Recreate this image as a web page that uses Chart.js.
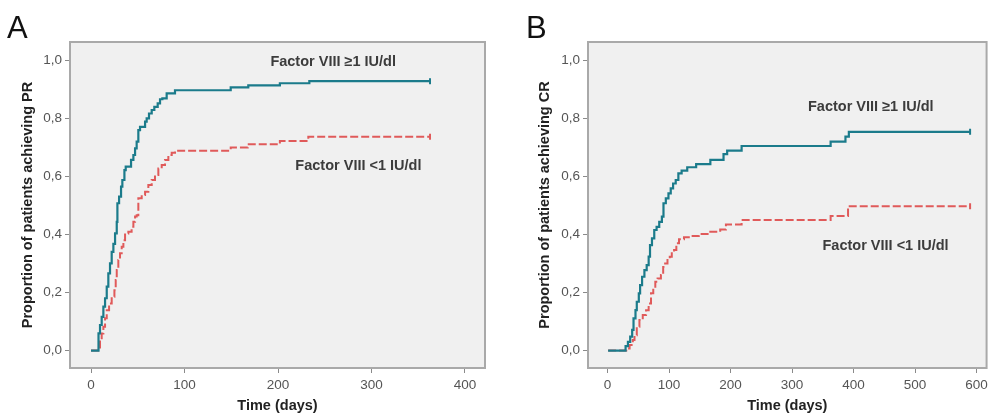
<!DOCTYPE html>
<html>
<head>
<meta charset="utf-8">
<script src="https://cdn.jsdelivr.net/npm/chart.js@4.4.1/dist/chart.umd.min.js"></script>
<style>
  body { margin: 0; background: #fff; width: 992px; height: 415px; overflow: hidden; position: relative; }
  .panel { position: absolute; top: 0; width: 496px; height: 415px; }
  .letter { position: absolute; font-family: 'Liberation Sans', Arial, sans-serif; font-size: 31px; color: #111; line-height: 1; }
</style>
</head>
<body>
<div class="panel" style="left:0"><canvas id="chartA" width="496" height="415"></canvas></div>
<div class="panel" style="left:496px"><canvas id="chartB" width="496" height="415"></canvas></div>
<div class="letter" style="left:7px;top:12px">A</div>
<div class="letter" style="left:526px;top:12px">B</div>
<script>
// Panel A: proportion achieving PR
const daysA_hi = [0, 8, 9.6, 11.4, 13.2, 15, 16.8, 18.5, 20.3, 22.1, 23.9, 25.7, 27.5, 28.2, 30, 32.1, 33.5, 35.7, 37.1, 42.8, 45.3, 47.1, 48.8, 50.6, 52.4, 57.8, 59.5, 62, 64.9, 67.7, 71.3, 73.8, 76.3, 80.9, 89.8, 149.4, 168.2, 202, 233.5, 362.6];
const propA_hi = [0, 0.059, 0.088, 0.116, 0.151, 0.180, 0.220, 0.266, 0.300, 0.340, 0.367, 0.403, 0.443, 0.507, 0.530, 0.564, 0.587, 0.621, 0.633, 0.656, 0.673, 0.696, 0.719, 0.759, 0.770, 0.788, 0.799, 0.816, 0.828, 0.839, 0.851, 0.865, 0.868, 0.885, 0.896, 0.906, 0.913, 0.920, 0.927, 0.927];
const daysA_lo = [0, 7.8, 9.6, 11.4, 13.2, 15, 16.8, 19.3, 22.1, 25, 26.4, 27.5, 29.2, 31, 32.8, 34.6, 36.4, 39.9, 43.4, 45.3, 47.1, 48.8, 50.6, 54.2, 57.8, 61.3, 64.9, 68.4, 72, 75.6, 79.1, 82.7, 86.3, 89.8, 149.4, 167.6, 202, 232.4, 362.6];
const propA_lo = [0, 0, 0.036, 0.059, 0.082, 0.111, 0.139, 0.162, 0.185, 0.208, 0.243, 0.277, 0.312, 0.335, 0.357, 0.380, 0.403, 0.409, 0.426, 0.443, 0.461, 0.466, 0.524, 0.535, 0.547, 0.570, 0.587, 0.604, 0.627, 0.639, 0.656, 0.673, 0.681, 0.688, 0.699, 0.710, 0.721, 0.736, 0.736];

// Panel B: proportion achieving CR
const daysB_hi = [1, 25.1, 29.4, 33.2, 36.9, 40.1, 42.3, 45.5, 47.6, 50.9, 53, 56.2, 60, 63.7, 66.9, 69.1, 72.3, 76, 79.8, 84.1, 88.4, 91, 94.8, 99.1, 102.8, 106.6, 110.9, 115.2, 120.5, 129.6, 144.1, 167.2, 188.6, 194.5, 218, 362.7, 386.8, 392.3, 589.4];
const propB_hi = [0, 0, 0.015, 0.030, 0.048, 0.071, 0.111, 0.139, 0.168, 0.197, 0.225, 0.254, 0.277, 0.294, 0.323, 0.363, 0.386, 0.415, 0.426, 0.443, 0.461, 0.507, 0.524, 0.541, 0.558, 0.575, 0.587, 0.610, 0.619, 0.631, 0.642, 0.656, 0.676, 0.688, 0.704, 0.719, 0.736, 0.753, 0.753];
const daysB_lo = [1, 25.1, 30.5, 35.9, 41.2, 43.9, 47.6, 51.9, 57.3, 62.7, 66.9, 70.7, 74.4, 77.7, 81.4, 86.8, 90.5, 93.7, 97.5, 101.2, 104.5, 108.2, 111.9, 116.2, 124.3, 135, 148.4, 164.5, 183.2, 192.5, 218, 362.7, 391, 589.4];
const propB_lo = [0, 0, 0.007, 0.019, 0.036, 0.053, 0.082, 0.105, 0.122, 0.139, 0.162, 0.197, 0.214, 0.237, 0.248, 0.260, 0.288, 0.300, 0.312, 0.323, 0.335, 0.346, 0.369, 0.383, 0.390, 0.394, 0.401, 0.409, 0.417, 0.434, 0.449, 0.463, 0.497, 0.497];

const xTicksA = [0, 100, 200, 300, 400];
const xTicksB = [0, 100, 200, 300, 400, 500, 600];
const yTicks = [0, 0.2, 0.4, 0.6, 0.8, 1.0];

const labelHi = 'Factor VIII \u22651 IU/dl';
const labelLo = 'Factor VIII <1 IU/dl';

const FONT = "'Liberation Sans', Arial, sans-serif";
const BLUE = '#1b7b8b';
const RED = '#e05a5a';

function pts(xs, ys) {
  return xs.map((x, i) => ({ x: x, y: ys[i] }));
}

// censor tick on the last point only
function lastOnly(n, r) {
  return (ctx) => ctx.dataIndex === n - 1 ? r : 0;
}

const frame = {
  id: 'frame',
  beforeDraw(chart) {
    const { ctx, chartArea: a } = chart;
    ctx.save();
    ctx.fillStyle = '#f0f0f0';
    ctx.fillRect(a.left, a.top, a.right - a.left, a.bottom - a.top);
    ctx.restore();
  },
  afterDatasetsDraw(chart) {
    const { ctx, chartArea: a } = chart;
    ctx.save();
    ctx.strokeStyle = '#a9a9a9';
    ctx.lineWidth = 2;
    ctx.strokeRect(a.left, a.top, a.right - a.left, a.bottom - a.top);
    ctx.restore();
  }
};

const notes = {
  id: 'notes',
  afterDraw(chart, args, opts) {
    const { ctx, scales } = chart;
    ctx.save();
    ctx.font = 'bold 14.5px ' + FONT;
    ctx.fillStyle = '#3c3c3c';
    ctx.textAlign = 'center';
    ctx.textBaseline = 'middle';
    (opts.items || []).forEach(n => {
      ctx.fillText(n.text, scales.x.getPixelForValue(n.x), scales.y.getPixelForValue(n.y));
    });
    ctx.restore();
  }
};

function makeChart(id, cfg) {
  const n1 = cfg.hi[0].length, n2 = cfg.lo[0].length;
  return new Chart(document.getElementById(id), {
    type: 'line',
    data: {
      datasets: [{
        label: labelHi,
        data: pts(cfg.hi[0], cfg.hi[1]),
        borderColor: BLUE,
        backgroundColor: BLUE,
        borderWidth: 2.2,
        stepped: true,
        pointStyle: 'line',
        rotation: 90,
        pointBorderColor: BLUE,
        pointBorderWidth: 2,
        pointRadius: lastOnly(n1, 3),
        pointHoverRadius: 0
      }, {
        label: labelLo,
        data: pts(cfg.lo[0], cfg.lo[1]),
        borderColor: RED,
        backgroundColor: RED,
        borderWidth: 2,
        borderDash: [8, 3],
        stepped: true,
        pointStyle: 'line',
        rotation: 90,
        pointBorderColor: RED,
        pointBorderWidth: 2,
        pointRadius: lastOnly(n2, 3),
        pointHoverRadius: 0
      }]
    },
    options: {
      responsive: false,
      animation: false,
      events: [],
      layout: { padding: { top: 42, right: cfg.padRight, left: 0, bottom: 0 } },
      plugins: {
        legend: { display: false },
        tooltip: { enabled: false },
        notes: { items: cfg.notes }
      },
      scales: {
        x: {
          type: 'linear',
          min: cfg.xMin,
          max: cfg.xMax,
          afterFit(s) { s.height = 47; },
          afterBuildTicks(s) { s.ticks = cfg.xTicks.map(v => ({ value: v })); },
          border: { display: false },
          grid: { drawOnChartArea: false, drawTicks: true, tickLength: 5, color: '#8a8a8a', lineWidth: 1 },
          ticks: { padding: 4, color: '#555', font: { family: FONT, size: 13.5 }, maxRotation: 0, callback: v => String(v) },
          title: { display: true, text: 'Time (days)', color: '#222', font: { family: FONT, size: 14.5, weight: 'bold' }, padding: { top: 0, bottom: 0 } }
        },
        y: {
          type: 'linear',
          min: -0.06,
          max: 1.062,
          afterFit(s) { s.width = cfg.yWidth; },
          afterBuildTicks(s) { s.ticks = yTicks.map(v => ({ value: v })); },
          border: { display: false },
          grid: { drawOnChartArea: false, drawTicks: true, tickLength: 5, color: '#8a8a8a', lineWidth: 1 },
          ticks: { padding: 3, color: '#555', font: { family: FONT, size: 13.5 }, callback: v => v.toFixed(1).replace('.', ',') },
          title: { display: true, text: cfg.yTitle, color: '#222', font: { family: FONT, size: 14.5, weight: 'bold' }, padding: { top: cfg.yTitlePad, bottom: 0 } }
        }
      }
    },
    plugins: [frame, notes]
  });
}

makeChart('chartA', {
  hi: [daysA_hi, propA_hi],
  lo: [daysA_lo, propA_lo],
  xTicks: xTicksA,
  xMin: -22.5,
  xMax: 421.4,
  yWidth: 70,
  padRight: 11,
  yTitle: 'Proportion of patients achieving PR',
  yTitlePad: 18.8,
  notes: [{ text: labelHi, x: 259, y: 0.993 }, { text: labelLo, x: 286, y: 0.635 }]
});

makeChart('chartB', {
  hi: [daysB_hi, propB_hi],
  lo: [daysB_lo, propB_lo],
  xTicks: xTicksB,
  xMin: -31.7,
  xMax: 616.2,
  yWidth: 92,
  padRight: 1,
  yTitle: 'Proportion of patients achieving CR',
  yTitlePad: 40.3,
  notes: [{ text: labelHi, x: 428, y: 0.838 }, { text: labelLo, x: 452, y: 0.36 }]
});
</script>
</body>
</html>
